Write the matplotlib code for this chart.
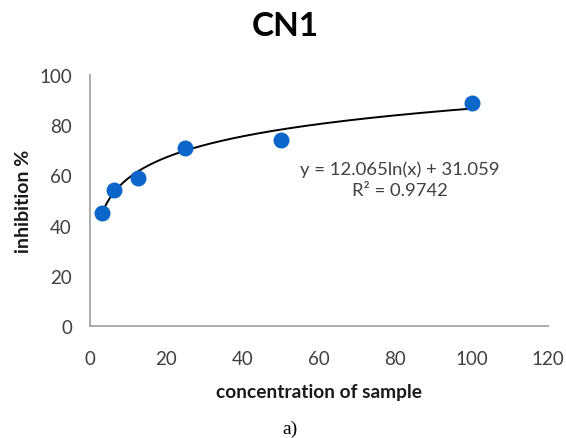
import numpy as np
import matplotlib
matplotlib.use("Agg")
import matplotlib.pyplot as plt

# data
concentration = [3.125, 6.25, 12.5, 25, 50, 100]
inhibition = [45, 54, 59, 71, 74, 89]
fit_a = 12.065
fit_b = 31.059
r2 = 0.9742
x_ticks = [0, 20, 40, 60, 80, 100, 120]
y_ticks = [0, 20, 40, 60, 80, 100]
title = "CN1"
xlabel = "concentration of sample"
ylabel = "inhibition %"
caption = "a)"

plt.rcParams['font.family'] = ['Lato', 'DejaVu Sans']

fig = plt.figure(figsize=(5.66, 4.39), dpi=100)
ax = fig.add_axes([90/566, 1-327/439, (548-90)/566, (327-76)/439])

xs = np.linspace(concentration[0], concentration[-1], 300)
ax.plot(xs, fit_a*np.log(xs)+fit_b, color='black', lw=1.4, zorder=2)
ax.plot(concentration, inhibition, 'o', color='#0a66c8', markersize=11.5, zorder=3, markeredgewidth=0)

ax.set_xlim(0, 120)
ax.set_ylim(0, 100)
ax.set_xticks(x_ticks)
ax.set_yticks(y_ticks)
ax.tick_params(length=0, labelsize=13.5, labelcolor='#404040')
ax.tick_params(axis='x', pad=17)
ax.tick_params(axis='y', pad=13)
for s in ['top', 'right']:
    ax.spines[s].set_visible(False)
for s in ['left', 'bottom']:
    ax.spines[s].set_color('#a6a6a6')
    ax.spines[s].set_linewidth(1.3)

ax.set_xlabel(xlabel, fontsize=13.8, fontweight='bold', color='#1a1a1a', labelpad=12)
ax.set_ylabel(ylabel, fontsize=14, fontweight='bold', color='#1a1a1a', labelpad=5)

ax.text(81.2, 58.5, f"y = {fit_a:.3f}ln(x) + {fit_b:.3f}\nR² = {r2:.4f}",
        ha='center', va='center', fontsize=13.3, color='#404040', linespacing=1.35)

fig.text(285/566, 1-27/439, title, ha='center', va='center', fontsize=24, fontweight='bold', color='black')
fig.text(290/566, 1-429/439, caption, ha='center', va='center', fontsize=14,
         family=['Liberation Serif', 'DejaVu Serif'], color='black')

fig.savefig('out.png', dpi=100)
